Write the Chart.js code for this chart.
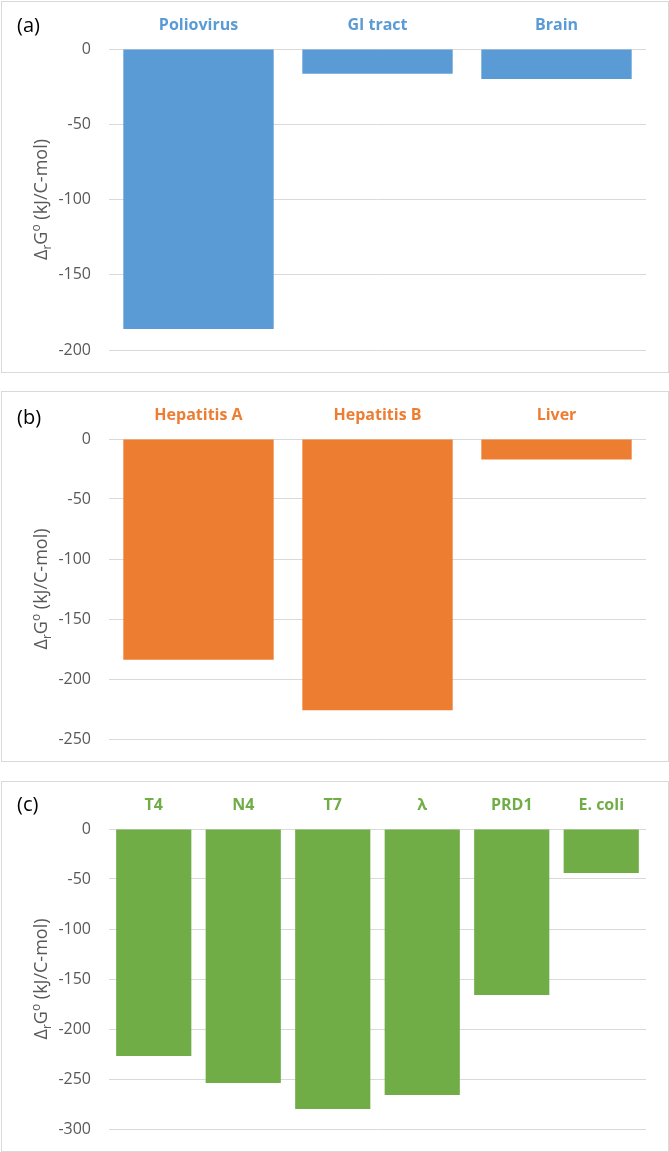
<!DOCTYPE html>
<html>
<head>
<meta charset="utf-8">
<script src="https://cdn.jsdelivr.net/npm/chart.js@4.4.0/dist/chart.umd.min.js"></script>
<style>
  html, body { margin: 0; padding: 0; background: #ffffff; }
  body { width: 669px; height: 1152px; position: relative; overflow: hidden; font-family: "Open Sans", sans-serif; }
  .panel { position: absolute; left: 1px; width: 668px; box-sizing: border-box; border: 1px solid #d9d9d9; background: #fff; }
  .panel canvas { position: absolute; left: 0; top: 0; }
  .tag { position: absolute; left: 15px; font-size: 20px; line-height: 20px; color: #000; font-family: "Open Sans", sans-serif; }
</style>
</head>
<body>
<div class="panel" id="pa" style="top:1px;height:372px;"><canvas id="ca" width="666" height="370"></canvas><div class="tag" style="top:13px;">(a)</div></div>
<div class="panel" id="pb" style="top:391px;height:371px;"><canvas id="cb" width="666" height="369"></canvas><div class="tag" style="top:15px;">(b)</div></div>
<div class="panel" id="pc" style="top:781px;height:371px;"><canvas id="cc" width="666" height="369"></canvas><div class="tag" style="top:12px;">(c)</div></div>
<script>
// ---- data ----
const catsA = ["Poliovirus", "GI tract", "Brain"];
const valsA = [-186, -16.5, -20];
const ticksA = [0, -50, -100, -150, -200];

const catsB = ["Hepatitis A", "Hepatitis B", "Liver"];
const valsB = [-184, -226, -17];
const ticksB = [0, -50, -100, -150, -200, -250];

const catsC = ["T4", "N4", "T7", "λ", "PRD1", "E. coli"];
const valsC = [-227, -254, -280, -266, -166, -44];
const ticksC = [0, -50, -100, -150, -200, -250, -300];

// axis title pieces: Δ, subscript r, G, superscript o, rest
const yTitleParts = [["Δ", ""], ["r", "sub"], ["G", ""], ["o", "sup"], [" (kJ/C-mol)", ""]];

const colBlue = "#5B9BD5", colOrange = "#ED7D31", colGreen = "#70AD47";

const axisTitlePlugin = {
  id: 'axisTitleSubSup',
  afterDraw(chart) {
    const ctx = chart.ctx;
    const area = chart.chartArea;
    const f = 18;
    const fam = "'Open Sans', sans-serif";
    const small = Math.round(f * 0.68);
    ctx.save();
    let total = 0;
    const widths = yTitleParts.map(p => {
      ctx.font = (p[1] ? small : f) + "px " + fam;
      const w = ctx.measureText(p[0]).width;
      total += w;
      return w;
    });
    const cx = 39;
    const cy = (area.top + area.bottom) / 2;
    ctx.translate(cx, cy);
    ctx.rotate(-Math.PI / 2);
    ctx.fillStyle = '#595959';
    ctx.textBaseline = 'alphabetic';
    ctx.textAlign = 'left';
    let x = -total / 2;
    const base = f * 0.36;
    yTitleParts.forEach((p, i) => {
      let dy = 0;
      if (p[1] === 'sub') dy = f * 0.22;
      if (p[1] === 'sup') dy = -f * 0.42;
      ctx.font = (p[1] ? small : f) + "px " + fam;
      ctx.fillText(p[0], x, base + dy);
      x += widths[i];
    });
    ctx.restore();
  }
};

function makeChart(id, cats, vals, ticks, color, padBottom) {
  const minV = Math.min.apply(null, ticks);
  const maxV = Math.max.apply(null, ticks);
  return new Chart(document.getElementById(id), {
    type: 'bar',
    data: {
      labels: cats,
      datasets: [{
        data: vals,
        backgroundColor: color,
        borderWidth: 0,
        barPercentage: 0.84,
        categoryPercentage: 1.0
      }]
    },
    plugins: [axisTitlePlugin],
    options: {
      responsive: false,
      animation: false,
      devicePixelRatio: 1,
      layout: { padding: { left: 0, right: 22, top: 0, bottom: padBottom } },
      plugins: { legend: { display: false }, tooltip: { enabled: false }, title: { display: false } },
      scales: {
        x: {
          position: 'top',
          grid: { display: false, drawTicks: false },
          border: { display: false },
          ticks: {
            color: color,
            font: { family: "'Open Sans', sans-serif", size: 16, weight: 'bold' },
            padding: 14,
            maxRotation: 0,
            autoSkip: false
          },
          afterFit: function(axis) { axis.height = 47; }
        },
        y: {
          min: minV,
          max: maxV,
          grid: { color: '#d9d9d9', lineWidth: 1, drawTicks: false },
          border: { display: false },
          afterBuildTicks: function(axis) { axis.ticks = ticks.map(v => ({ value: v })); },
          ticks: {
            color: '#595959',
            font: { family: "'Open Sans', sans-serif", size: 16 },
            padding: 18
          },
          title: { display: false },
          afterFit: function(axis) {
            axis.width = 107;
            axis.paddingTop = 0;
            axis.paddingBottom = 0;
          }
        }
      }
    }
  });
}

makeChart('ca', catsA, valsA, ticksA, colBlue, 22);
makeChart('cb', catsB, valsB, ticksB, colOrange, 22);
makeChart('cc', catsC, valsC, ticksC, colGreen, 22);
</script>
</body>
</html>
